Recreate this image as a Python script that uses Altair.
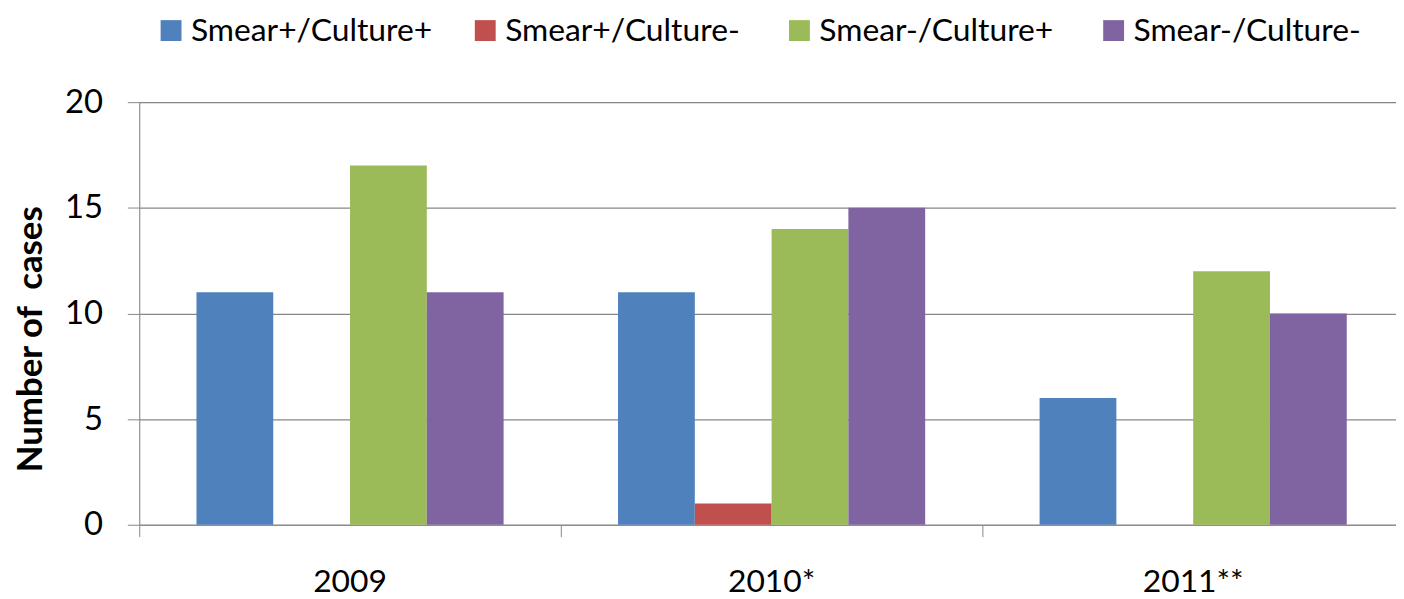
import altair as alt
import pandas as pd

years = ["2009", "2010*", "2011**"]
series = ["Smear+/Culture+", "Smear+/Culture-", "Smear-/Culture+", "Smear-/Culture-"]
colors = ["#4F81BD", "#C0504D", "#9BBB59", "#8064A2"]
v_sp_cp = [11, 11, 6]
v_sp_cn = [0, 1, 0]
v_sn_cp = [17, 14, 12]
v_sn_cn = [11, 15, 10]

rows = []
for i, y in enumerate(years):
    for s, vals in zip(series, [v_sp_cp, v_sp_cn, v_sn_cp, v_sn_cn]):
        rows.append({"Year": y, "Series": s, "Cases": vals[i]})
df = pd.DataFrame(rows)

FONT = "Lato"
GRAY = "#878787"

chart = alt.Chart(df).mark_bar().encode(
    x=alt.X("Year:N", sort=years, title=None,
            scale=alt.Scale(range=[0, 1272], paddingInner=0, paddingOuter=0),
            axis=alt.Axis(bandPosition=0, labelAngle=0, labelFontSize=32, labelFont=FONT,
                          labelColor="#000000", tickSize=12, tickColor=GRAY, domainColor=GRAY,
                          labelPadding=30, labelBaseline="top", grid=False)),
    xOffset=alt.XOffset("Series:N", sort=series,
                        scale=alt.Scale(paddingInner=0, paddingOuter=0.745)),
    y=alt.Y("Cases:Q", scale=alt.Scale(domain=[0, 20], nice=False),
            axis=alt.Axis(values=[0, 5, 10, 15, 20], title="Number of\u00a0 cases",
                          titleFont=FONT, titleFontSize=35, titleFontWeight="bold",
                          titleColor="#000000", titleAngle=-90, titleX=-98, titleY=238,
                          titleAlign="center", titleBaseline="alphabetic",
                          labelFontSize=33, labelFont=FONT, labelColor="#000000",
                          labelPadding=25, tickSize=12, tickColor=GRAY, domainColor=GRAY,
                          gridColor=GRAY, gridWidth=1.2)),
    color=alt.Color("Series:N", sort=series,
                    scale=alt.Scale(domain=series, range=colors),
                    legend=alt.Legend(orient="none", direction="horizontal", title=None,
                                      legendX=16, legendY=-88, symbolType="square",
                                      symbolSize=441, symbolStrokeWidth=0,
                                      labelFont=FONT, labelFontSize=32, labelColor="#000000",
                                      labelOffset=4, columnPadding=37, gridAlign="all",
                                      labelLimit=500, padding=0, columns=4)),
).properties(
    width=1264, height=425,
    autosize=alt.AutoSizeParams(type="none"),
    padding={"left": 132, "top": 93, "right": 0, "bottom": 73},
).configure_view(stroke=None).configure(background="white")

chart.save("out.html", embed_options={"renderer": "svg", "actions": False})
